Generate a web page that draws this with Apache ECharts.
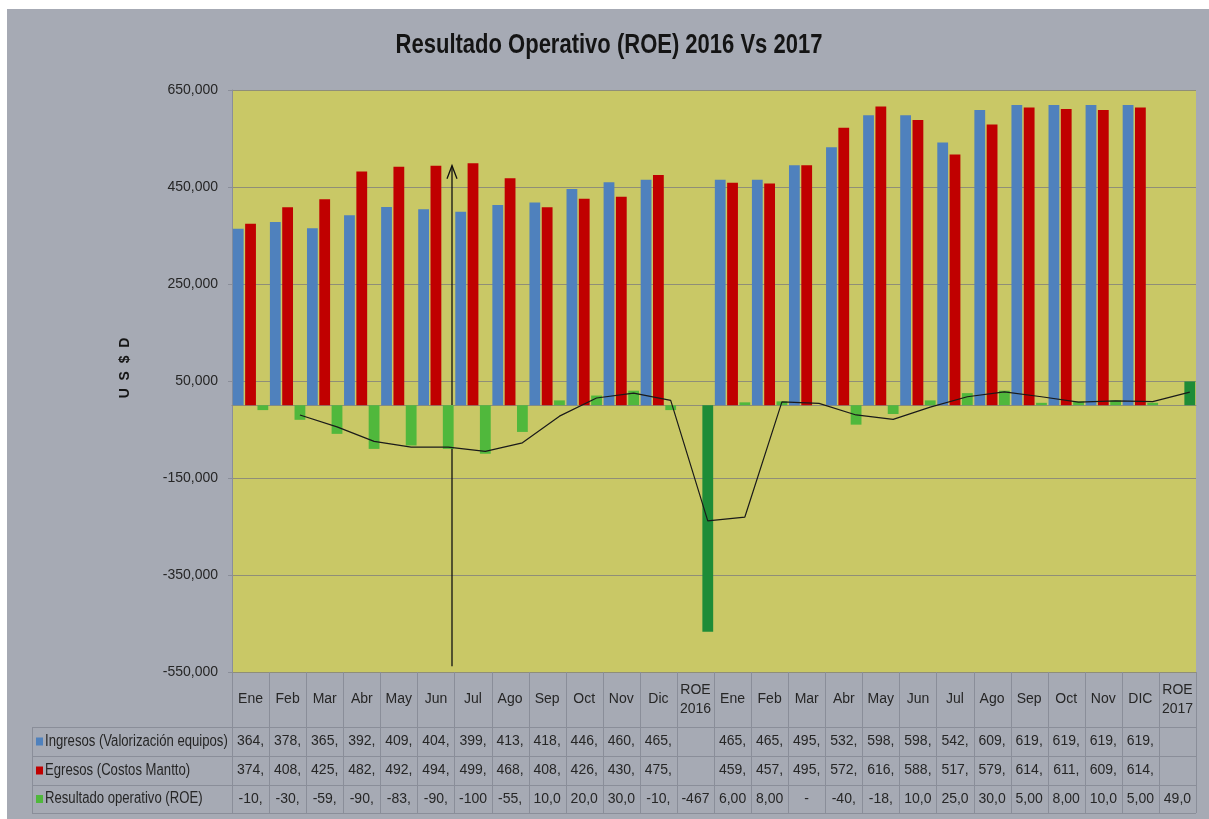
<!DOCTYPE html>
<html>
<head>
<meta charset="utf-8">
<title>Resultado Operativo (ROE) 2016 Vs 2017</title>
<script src="https://cdn.jsdelivr.net/npm/echarts@6/dist/echarts.min.js"></script>
<style>
  html, body { margin: 0; padding: 0; background: #ffffff; }
  #frame { position: absolute; left: 7px; top: 9px; right: 0; bottom: 0; background: #a6aab4; }
  #chart { position: absolute; left: 0; top: 0; width: 1209px; height: 819px; }
</style>
</head>
<body>
<div id="frame"></div>
<div id="chart"></div>
<script>
// ---- data (US$) ----
const categories = ['Ene','Feb','Mar','Abr','May','Jun','Jul','Ago','Sep','Oct','Nov','Dic','ROE\n2016',
                    'Ene','Feb','Mar','Abr','May','Jun','Jul','Ago','Sep','Oct','Nov','DIC','ROE\n2017'];
const ingresos = [364000,378000,365000,392000,409000,404000,399000,413000,418000,446000,460000,465000,null,
                  465000,465000,495000,532000,598000,598000,542000,609000,619000,619000,619000,619000,null];
const egresos  = [374000,408000,425000,482000,492000,494000,499000,468000,408000,426000,430000,475000,null,
                  459000,457000,495000,572000,616000,588000,517000,579000,614000,611000,609000,614000,null];
const roe      = [-10000,-30000,-59000,-90000,-83000,-90000,-100000,-55000,10000,20000,30000,-10000,-467000,
                  6000,8000,0,-40000,-18000,10000,25000,30000,5000,8000,10000,5000,49000];
const totalColumns = [12, 25];           // annual ROE totals
const seriesNames = ['Ingresos (Valorización equipos)', 'Egresos (Costos Mantto)', 'Resultado operativo (ROE)'];
const titleText = 'Resultado Operativo (ROE) 2016 Vs 2017';
const yTitle = 'U  S  $  D';
const yMin = -550000, yMax = 650000, yStep = 200000;
const arrowSpan = { atBoundary: 6, from: -538000, to: 494000 };

// ---- layout & style ----
const W = 1209, H = 819;
const GRID = { left: 232, right: 13, top: 90, bottom: 147 };
const plotW = W - GRID.left - GRID.right;
const catW = plotW / categories.length;
const BAR_W = 10.8, BAR_GAP = 0.14;
// centre of the third bar in a cluster, in category units (trendline sits on it)
const roeSlot = 0.5 + (BAR_W * (1 + BAR_GAP)) / catW;

const FONT = "'Liberation Sans', Arial, sans-serif";
const TXT = '#262626';
const COLORS = { ingresos: '#4f81bd', egresos: '#c00000', roe: '#50b83c', roeTotal: '#1e8c37' };
const GRIDLINE = '#8f8e78';
const TABLE_LINE = '#8a8e99';
const rowY = [672, 727, 756, 785, 813];  // table row boundaries (px)

// Excel-style cell text: "#,##0" shown in a 4-character-wide cell, zero as "-"
function cellText(v) {
  if (v === null || v === undefined) return '';
  if (v === 0) return '-';
  return v.toLocaleString('en-US').slice(0, 4);
}

// two-period moving average of ROE
const trend = roe.map((v, i) => (i === 0 ? null : (roe[i - 1] + v) / 2));
const trendData = trend.map((v, i) => (v === null ? null : [i + roeSlot, v])).filter(p => p);

function tableAxis(values, centerY) {
  return {
    type: 'category', data: categories, position: 'bottom', gridIndex: 0,
    axisLine: { show: false, onZero: false }, axisTick: { show: false }, splitLine: { show: false },
    axisLabel: {
      interval: 0, margin: centerY - (H - GRID.bottom), verticalAlign: 'middle',
      color: TXT, fontFamily: FONT, fontSize: 14, lineHeight: 19,
      formatter: values ? (val, idx) => cellText(values[idx]) : (val) => val
    }
  };
}

const chart = echarts.init(document.getElementById('chart'), null, { renderer: 'canvas', width: W, height: H });

chart.setOption({
  backgroundColor: 'transparent',
  animation: false,
  grid: { left: GRID.left, right: GRID.right, top: GRID.top, bottom: GRID.bottom,
          show: true, backgroundColor: '#c9c866', borderWidth: 0 },
  xAxis: [
    { type: 'category', data: categories, gridIndex: 0,
      axisLine: { show: true, onZero: true, lineStyle: { color: GRIDLINE, width: 1 } },
      axisTick: { show: false }, axisLabel: { show: false }, splitLine: { show: false } },
    tableAxis(null, (rowY[0] + rowY[1]) / 2),
    tableAxis(ingresos, (rowY[1] + rowY[2]) / 2),
    tableAxis(egresos, (rowY[2] + rowY[3]) / 2),
    tableAxis(roe, (rowY[3] + rowY[4]) / 2),
    { type: 'value', min: 0, max: categories.length, show: false, gridIndex: 0 }
  ],
  yAxis: {
    type: 'value', min: yMin, max: yMax, interval: yStep,
    axisLine: { show: true, lineStyle: { color: '#8a8e99' } },
    axisTick: { show: true, length: 4, lineStyle: { color: '#8a8e99' } },
    axisLabel: { margin: 14, color: TXT, fontFamily: FONT, fontSize: 14,
                 formatter: v => v.toLocaleString('en-US') },
    splitLine: { show: true, lineStyle: { color: GRIDLINE, width: 1 } }
  },
  series: [
    { name: seriesNames[0], type: 'bar', data: ingresos, barWidth: BAR_W, barGap: (BAR_GAP * 100) + '%',
      itemStyle: { color: COLORS.ingresos } },
    { name: seriesNames[1], type: 'bar', data: egresos, barWidth: BAR_W, barGap: (BAR_GAP * 100) + '%',
      itemStyle: { color: COLORS.egresos } },
    { name: seriesNames[2], type: 'bar', data: roe, barWidth: BAR_W, barGap: (BAR_GAP * 100) + '%',
      itemStyle: { color: p => (totalColumns.includes(p.dataIndex) ? COLORS.roeTotal : COLORS.roe) } },
    { name: 'Media móvil ROE', type: 'line', xAxisIndex: 5, data: trendData,
      symbol: 'none', smooth: false, z: 5,
      lineStyle: { color: '#1a1a1a', width: 1.2 } }
  ]
});

// ---- title, axis title, data table frame, legend keys and annotation arrow ----
const graphics = [];
const xRight = W - GRID.right, tableLeft = 32;
const line = (x1, y1, x2, y2, color, w) => ({
  type: 'line', shape: { x1, y1, x2, y2 }, silent: true,
  style: { stroke: color, lineWidth: w || 1 }
});

// condensed bold title
graphics.push({ type: 'text', x: 609, y: 46, scaleX: 0.815, silent: true,
  style: { text: titleText, fill: '#141414', font: "bold 27px 'Liberation Sans', Arial, sans-serif",
           textAlign: 'center', textVerticalAlign: 'middle' } });
// rotated value-axis title
graphics.push({ type: 'text', x: 125, y: 368, rotation: Math.PI / 2, silent: true,
  style: { text: yTitle, fill: '#141414', font: "bold 14px 'Liberation Sans', Arial, sans-serif",
           textAlign: 'center', textVerticalAlign: 'middle' } });

for (let i = 0; i <= categories.length; i++) {
  const x = Math.round(chart.convertToPixel({ xAxisIndex: 5 }, i)) + 0.5;
  graphics.push(line(x, rowY[0], x, rowY[4], TABLE_LINE));
}
graphics.push(line(tableLeft + 0.5, rowY[1], tableLeft + 0.5, rowY[4], TABLE_LINE));
for (let r = 1; r < rowY.length; r++) {
  graphics.push(line(tableLeft, rowY[r] + 0.5, xRight, rowY[r] + 0.5, TABLE_LINE));
}
const keyColors = [COLORS.ingresos, COLORS.egresos, COLORS.roe];
seriesNames.forEach((name, r) => {
  const cy = (rowY[r + 1] + rowY[r + 2]) / 2;
  graphics.push({ type: 'rect', shape: { x: 36, y: cy - 4, width: 7, height: 8 }, silent: true,
                  style: { fill: keyColors[r] } });
  graphics.push({ type: 'text', x: 45, y: cy, scaleX: 0.82, silent: true,
                  style: { text: name, fill: TXT, font: '16px ' + FONT, textVerticalAlign: 'middle' } });
});

// vertical arrow between Jun and Jul
const ax = Math.round(chart.convertToPixel({ xAxisIndex: 5 }, arrowSpan.atBoundary)) - 2;
const ay0 = chart.convertToPixel({ yAxisIndex: 0 }, arrowSpan.from);
const ay1 = chart.convertToPixel({ yAxisIndex: 0 }, arrowSpan.to);
graphics.push(line(ax, ay0, ax, ay1, '#111111', 1.3));
graphics.push({ type: 'polyline', silent: true,
  shape: { points: [[ax - 5, ay1 + 13], [ax, ay1], [ax + 5, ay1 + 13]] },
  style: { stroke: '#111111', lineWidth: 1.3, fill: null } });

chart.setOption({ graphic: graphics });
</script>
</body>
</html>
